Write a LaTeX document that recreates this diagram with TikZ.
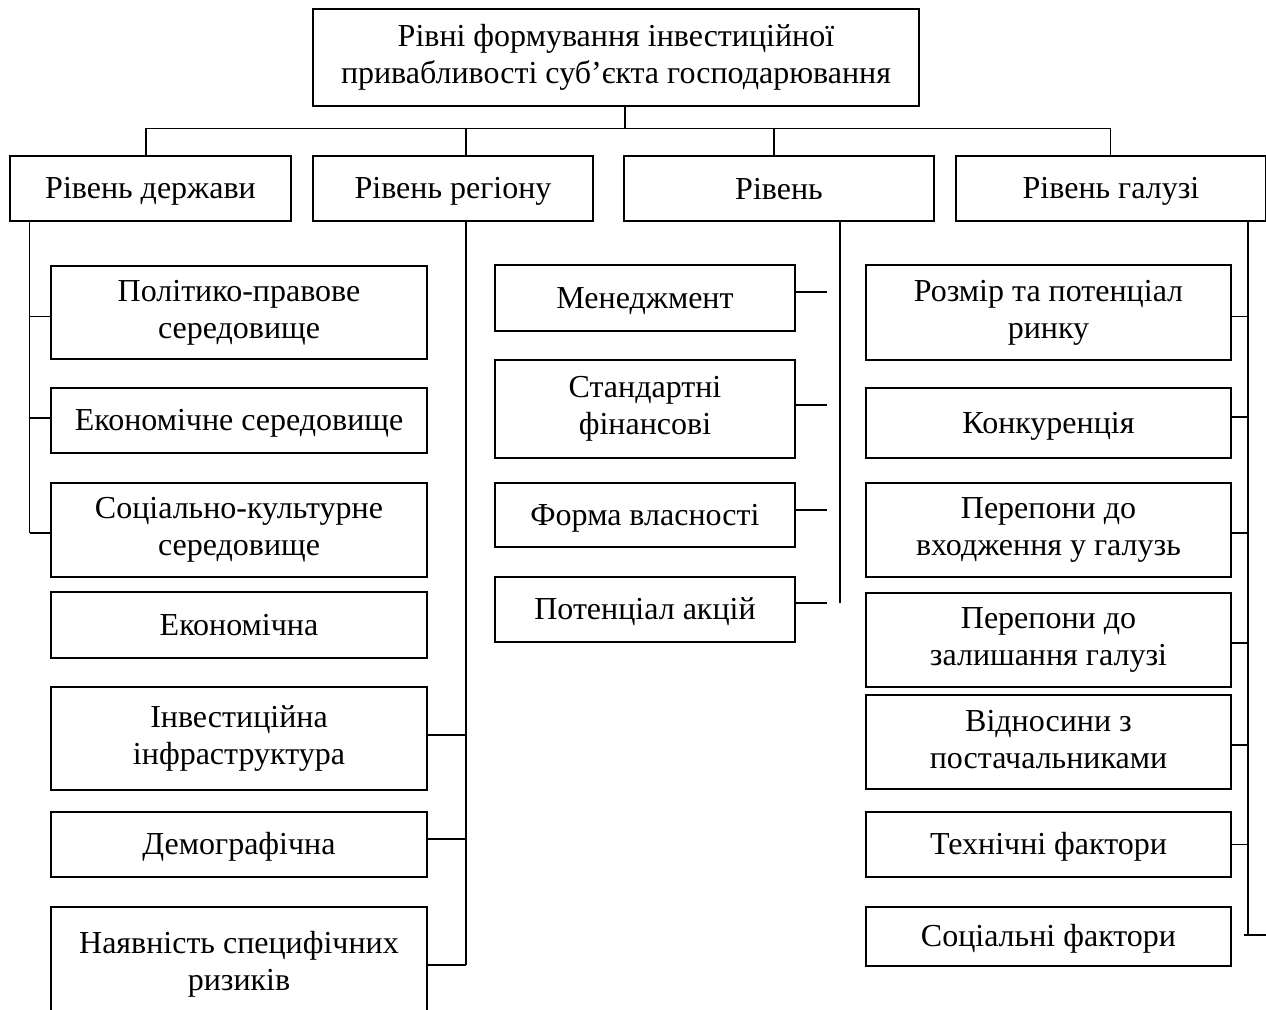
\documentclass[tikz,border=0pt]{standalone}
\usepackage{fontspec}
\setmainfont{Liberation Serif}
\newcommand\boxstrut{\rule[-2.9pt]{0pt}{16.4pt}}
\begin{document}
\begin{tikzpicture}[x=0.5pt,y=-0.5pt,
  box/.style={draw, line width=1.3pt, align=center, inner sep=0pt,
    font=\fontsize{16pt}{18.5pt}\selectfont,
    execute at begin node=\boxstrut, execute at end node=\boxstrut},
  conn/.style={line width=0.9pt}]
\useasboundingbox (0,0) rectangle (1266,1010);
\newcommand\mkbox[6]{%
  \node[box, minimum width={(#4-#2)*0.5pt}, minimum height={(#5-#3)*0.5pt}]
    (#1) at ({(#2+#4)/2},{(#3+#5)/2}) {#6};}
% top
\mkbox{top}{313}{9}{919}{106}{Рівні формування інвестиційної\\привабливості суб’єкта господарювання}
% levels
\mkbox{d}{10}{156}{291}{221}{Рівень держави}
\mkbox{r}{313}{156}{593}{221}{Рівень регіону}
\mkbox{p}{624}{156}{934}{221}{Рівень}
\mkbox{g}{956}{156}{1266}{221}{Рівень галузі}
% left column
\mkbox{pol}{51}{266}{427}{359}{Політико-правове\\середовище}
\mkbox{eco}{51}{388}{427}{453}{Економічне середовище}
\mkbox{soc}{51}{483}{427}{577}{Соціально-культурне\\середовище}
\mkbox{econ}{51}{592}{427}{658}{Економічна}
\mkbox{inv}{51}{687}{427}{790}{Інвестиційна\\інфраструктура}
\mkbox{dem}{51}{812}{427}{877}{Демографічна}
\mkbox{nay}{51}{907}{427}{1022}{Наявність специфічних\\ризиків}
% middle column
\mkbox{men}{495}{265}{795}{331}{Менеджмент}
\mkbox{std}{495}{360}{795}{458}{Стандартні\\фінансові}
\mkbox{form}{495}{483}{795}{547}{Форма власності}
\mkbox{pot}{495}{577}{795}{642}{Потенціал акцій}
% right column
\mkbox{roz}{866}{265}{1231}{360}{Розмір та потенціал\\ринку}
\mkbox{kon}{866}{388}{1231}{458}{Конкуренція}
\mkbox{perv}{866}{483}{1231}{577}{Перепони до\\входження у галузь}
\mkbox{perz}{866}{593}{1231}{687}{Перепони до\\залишання галузі}
\mkbox{vid}{866}{695}{1231}{789}{Відносини з\\постачальниками}
\mkbox{tech}{866}{812}{1231}{877}{Технічні фактори}
\mkbox{socf}{866}{907}{1231}{966}{Соціальні фактори}
% coordinates
\coordinate (topdrop) at (625,106);
\coordinate (busY) at (0,128.5);
\coordinate (dx) at (146,0);
\coordinate (rx) at (466,0);
\coordinate (px) at (774,0);
\coordinate (gx) at (1110.5,0);
\coordinate (dEnd) at (29.5,532.7);
\coordinate (rEnd) at (466,965);
\coordinate (pEnd) at (840,603);
\coordinate (gEnd) at (1248,935);
\coordinate (pStub) at (826.7,0);
\coordinate (gT) at (1266,935);
% bus
\draw[conn] (topdrop) -- (topdrop |- busY);
\draw[conn] (dx |- busY) -- (gx |- busY);
\draw[conn] (dx |- busY) -- (dx |- d.north);
\draw[conn] (rx |- busY) -- (rx |- r.north);
\draw[conn] (px |- busY) -- (px |- p.north);
\draw[conn] (gx |- busY) -- (gx |- g.north);
% verticals
\draw[conn] (dEnd |- d.south) -- (dEnd);
\draw[conn] (rEnd |- r.south) -- (rEnd);
\draw[conn] (pEnd |- p.south) -- (pEnd);
\draw[conn] (gEnd |- g.south) -- (gEnd);
% left stubs
\draw[conn] ([yshift=-2pt]pol.west) -- ([yshift=-2pt]pol.west -| dEnd);
\draw[conn] ([yshift=1.4pt]eco.west) -- ([yshift=1.4pt]eco.west -| dEnd);
\draw[conn] (dEnd) -- (dEnd -| soc.west);
% region stubs
\draw[conn] ([yshift=1.7pt]inv.east) -- ([yshift=1.7pt]inv.east -| rEnd);
\draw[conn] ([yshift=2.7pt]dem.east) -- ([yshift=2.7pt]dem.east -| rEnd);
\draw[conn] (rEnd -| nay.east) -- (rEnd);
% middle stubs
\draw[conn] ([yshift=3pt]men.east) -- ([yshift=3pt]men.east -| pStub);
\draw[conn] ([yshift=2pt]std.east) -- ([yshift=2pt]std.east -| pStub);
\draw[conn] ([yshift=2.5pt]form.east) -- ([yshift=2.5pt]form.east -| pStub);
\draw[conn] ([yshift=3.2pt]pot.east) -- ([yshift=3.2pt]pot.east -| pStub);
% right stubs
\draw[conn] ([yshift=-2pt]roz.east) -- ([yshift=-2pt]roz.east -| gEnd);
\draw[conn] ([yshift=3pt]kon.east) -- ([yshift=3pt]kon.east -| gEnd);
\draw[conn] ([yshift=-1.4pt]perv.east) -- ([yshift=-1.4pt]perv.east -| gEnd);
\draw[conn] ([yshift=-1.4pt]perz.east) -- ([yshift=-1.4pt]perz.east -| gEnd);
\draw[conn] ([yshift=-1.5pt]vid.east) -- ([yshift=-1.5pt]vid.east -| gEnd);
\draw[conn] (tech.east) -- (tech.east -| gEnd);
\draw[conn] ([xshift=-2pt]gEnd) -- (gT);
\end{tikzpicture}
\end{document}
